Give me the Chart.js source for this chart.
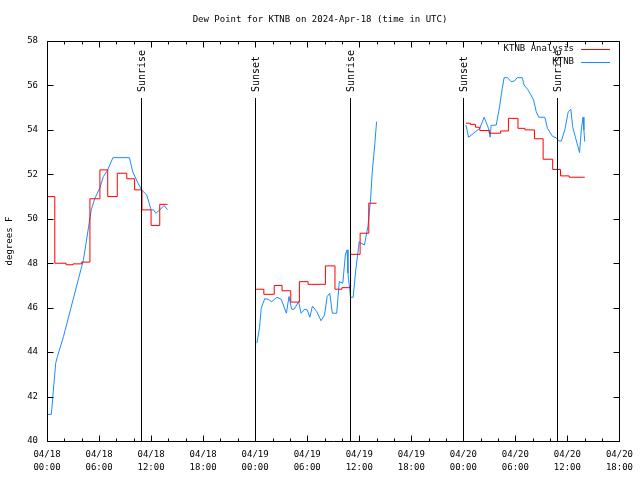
<!DOCTYPE html>
<html>
<head>
<meta charset="utf-8">
<script src="https://cdn.jsdelivr.net/npm/chart.js@4/dist/chart.umd.min.js"></script>
<style>
  body { margin: 0; background: #fff; }
  #dew-chart { display: block; }
</style>
</head>
<body>
<canvas id="dew-chart" width="640" height="480"></canvas>
<script>
// hours since 04/18 00:00 UTC; null = gap between runs
var analysisHours = [0, 0.9, 2.2, 3.0, 4.0, 4.95, 6.1, 7.0, 8.1, 9.2, 10.1, 10.95, 12.0, 13.0, 13.9, 19,
  24.1, 25.0, 26.2, 27.1, 28.1, 29.1, 30.1, 32.1, 33.2, 34.0, 35.0, 36.1, 37.1, 38.0, 43,
  48.3, 48.8, 49.4, 49.9, 51.0, 52.3, 53.2, 54.3, 55.1, 56.2, 57.2, 58.3, 59.2, 60.2, 62.0];
var analysisDew = [51.0, 48.0, 47.93, 47.97, 48.05, 50.9, 52.2, 51.0, 52.05, 51.8, 51.3, 50.4, 49.7, 50.65, 50.65, null,
  46.83, 46.6, 47.0, 46.76, 46.25, 47.17, 47.05, 47.88, 46.83, 46.9, 48.4, 49.35, 50.7, 50.7, null,
  54.3, 54.25, 54.12, 53.97, 53.85, 53.95, 54.52, 54.07, 54.0, 53.6, 52.68, 52.22, 51.93, 51.87, 51.87];

var obsHours = [0, 0.5, 1.0, 1.2, 1.9, 3.0, 4.2, 5.1, 5.5, 6.1, 6.5, 7.0, 7.6, 9.5, 9.9, 10.5, 10.9, 11.5, 12.0, 12.3, 12.55, 13.0, 13.5, 13.9, 19,
  24.2, 24.5, 24.7, 25.1, 25.5, 25.9, 26.5, 27.0, 27.6, 27.9, 28.2, 28.5, 29.0, 29.3, 29.7, 30.0, 30.3, 30.6, 31.1, 31.6, 32.0, 32.3, 32.6, 32.9, 33.4, 33.7, 34.1, 34.4, 34.6, 34.7, 35.0, 35.3, 35.6, 36.0, 36.2, 36.6, 37.0, 37.3, 37.5, 37.8, 38.0, 43,
  48.3, 48.6, 49.9, 50.4, 50.9, 51.1, 51.2, 51.8, 51.9, 52.2, 52.4, 52.7, 53.1, 53.5, 53.9, 54.2, 54.8, 55.0, 55.4, 55.8, 56.1, 56.4, 56.7, 57.4, 57.7, 58.3, 58.7, 59.0, 59.3, 59.7, 60.1, 60.4, 60.6, 60.9, 61.4, 61.6, 61.8, 61.9, 62.0];
var obsDew = [41.2, 41.2, 43.5, 43.8, 44.7, 46.35, 48.15, 50.4, 50.9, 51.4, 51.9, 52.2, 52.75, 52.75, 52.1, 51.6, 51.3, 51.07, 50.4, 50.4, 50.25, 50.4, 50.6, 50.4, null,
  44.4, 45.1, 45.97, 46.4, 46.38, 46.27, 46.47, 46.38, 45.75, 46.5, 45.93, 45.93, 46.27, 45.75, 45.93, 45.9, 45.57, 46.07, 45.82, 45.41, 45.67, 46.5, 46.65, 45.75, 45.75, 47.17, 47.1, 48.37, 48.6, 47.55, 46.47, 46.47, 47.7, 48.97, 48.9, 48.82, 49.65, 50.85, 52.1, 53.4, 54.37, null,
  54.22, 53.67, 54.07, 54.57, 54.07, 53.67, 54.2, 54.22, 54.45, 55.08, 55.65, 56.35, 56.35, 56.17, 56.2, 56.35, 56.35, 56.02, 55.83, 55.57, 55.35, 54.82, 54.57, 54.57, 54.07, 53.7, 53.65, 53.5, 53.5, 54.0, 54.82, 54.92, 54.15, 53.7, 52.98, 54.0, 54.57, 54.0, 53.47];

var sunHours = [10.85, 23.97, 34.9, 48.0, 58.85];
var sunLabels = ["Sunrise", "Sunset", "Sunrise", "Sunset", "Sunrise"];

var dayLabels = ["04/18", "04/18", "04/18", "04/18", "04/19", "04/19", "04/19", "04/19", "04/20", "04/20", "04/20", "04/20"];
var timeLabels = ["00:00", "06:00", "12:00", "18:00", "00:00", "06:00", "12:00", "18:00", "00:00", "06:00", "12:00", "18:00"];

var MONO = "'DejaVu Sans Mono', 'Liberation Mono', monospace";

function pairs(xs, ys) {
  return xs.map(function (h, i) { return { x: h, y: ys[i] }; });
}

var gnuplotBits = {
  id: 'gnuplotBits',
  beforeDraw: function (chart) {
    var ctx = chart.ctx;
    ctx.save();
    ctx.fillStyle = '#fff';
    ctx.fillRect(0, 0, chart.width, chart.height);
    ctx.restore();
  },
  afterDatasetsDraw: function (chart) {
    var ctx = chart.ctx, a = chart.chartArea;
    var xs = chart.scales.x, ys = chart.scales.y;
    ctx.save();
    ctx.strokeStyle = '#000';
    ctx.fillStyle = '#000';
    ctx.lineWidth = 1;

    // sunrise / sunset markers
    ctx.font = '10px ' + MONO;
    sunHours.forEach(function (h, i) {
      var px = Math.round(xs.getPixelForValue(h)) + 0.5;
      ctx.beginPath();
      ctx.moveTo(px, 98);
      ctx.lineTo(px, a.bottom);
      ctx.stroke();
      ctx.save();
      ctx.translate(px + 1, 92);
      ctx.rotate(-Math.PI / 2);
      ctx.textAlign = 'left';
      ctx.textBaseline = 'middle';
      ctx.fillText(sunLabels[i], 0, 0);
      ctx.restore();
    });

    // border
    var L = Math.round(a.left) + 0.5, R = Math.round(a.right) + 0.5;
    var T = Math.round(a.top) + 0.5, B = Math.round(a.bottom) + 0.5;
    ctx.beginPath();
    ctx.rect(L, T, R - L, B - T);
    ctx.stroke();

    // inward ticks
    ctx.beginPath();
    for (var h = 0; h <= 66; h += 2) {
      var px = Math.round(xs.getPixelForValue(h)) + 0.5;
      var len = (h % 6 === 0) ? 6 : 3;
      ctx.moveTo(px, B); ctx.lineTo(px, B - len);
      ctx.moveTo(px, T); ctx.lineTo(px, T + len);
    }
    for (var v = 40; v <= 58; v += 2) {
      var py = Math.round(ys.getPixelForValue(v)) + 0.5;
      ctx.moveTo(L, py); ctx.lineTo(L + 6, py);
      ctx.moveTo(R, py); ctx.lineTo(R - 6, py);
    }
    ctx.stroke();

    // title
    ctx.font = '9px ' + MONO;
    ctx.textAlign = 'center';
    ctx.textBaseline = 'middle';
    ctx.fillText('Dew Point for KTNB on 2024-Apr-18 (time in UTC)', 320, 20);

    // y axis title
    ctx.save();
    ctx.translate(10, 241);
    ctx.rotate(-Math.PI / 2);
    ctx.fillText('degrees F', 0, 0);
    ctx.restore();

    // key
    var keys = [['KTNB Analysis', '#ff0000', 49], ['KTNB', '#1a8cff', 62]];
    ctx.textAlign = 'right';
    keys.forEach(function (k) {
      ctx.fillStyle = '#000';
      ctx.fillText(k[0], 574, k[2]);
      ctx.strokeStyle = k[1];
      ctx.beginPath();
      ctx.moveTo(581, k[2] + 0.5);
      ctx.lineTo(610, k[2] + 0.5);
      ctx.stroke();
    });
    ctx.restore();
  }
};

new Chart(document.getElementById('dew-chart'), {
  type: 'line',
  data: {
    datasets: [
      {
        label: 'KTNB Analysis',
        data: pairs(analysisHours, analysisDew),
        borderColor: '#ff0000',
        borderWidth: 1,
        pointRadius: 0,
        stepped: 'before',
        spanGaps: false,
        order: 1
      },
      {
        label: 'KTNB',
        data: pairs(obsHours, obsDew),
        borderColor: '#1a8cff',
        borderWidth: 1,
        pointRadius: 0,
        tension: 0,
        spanGaps: false,
        order: 2
      }
    ]
  },
  options: {
    responsive: false,
    animation: false,
    events: [],
    layout: { padding: { top: 41, right: 20, left: 0, bottom: 0 } },
    plugins: {
      legend: { display: false },
      title: { display: false },
      tooltip: { enabled: false }
    },
    scales: {
      x: {
        type: 'linear',
        min: 0,
        max: 66,
        grid: { display: false, drawTicks: false },
        border: { display: false },
        afterFit: function (s) { s.height = 39; },
        afterBuildTicks: function (s) {
          s.ticks = dayLabels.map(function (d, i) { return { value: i * 6 }; });
        },
        ticks: {
          autoSkip: false,
          maxRotation: 0,
          minRotation: 0,
          padding: 7,
          color: '#000',
          font: { family: MONO, size: 9, lineHeight: 1.45 },
          callback: function (v) {
            var i = Math.round(v / 6);
            return [dayLabels[i], timeLabels[i]];
          }
        }
      },
      y: {
        min: 40,
        max: 58,
        grid: { display: false, drawTicks: false },
        border: { display: false },
        afterFit: function (s) { s.width = 47; },
        ticks: {
          stepSize: 2,
          padding: 9,
          color: '#000',
          font: { family: MONO, size: 9 }
        }
      }
    }
  },
  plugins: [gnuplotBits]
});
</script>
</body>
</html>
